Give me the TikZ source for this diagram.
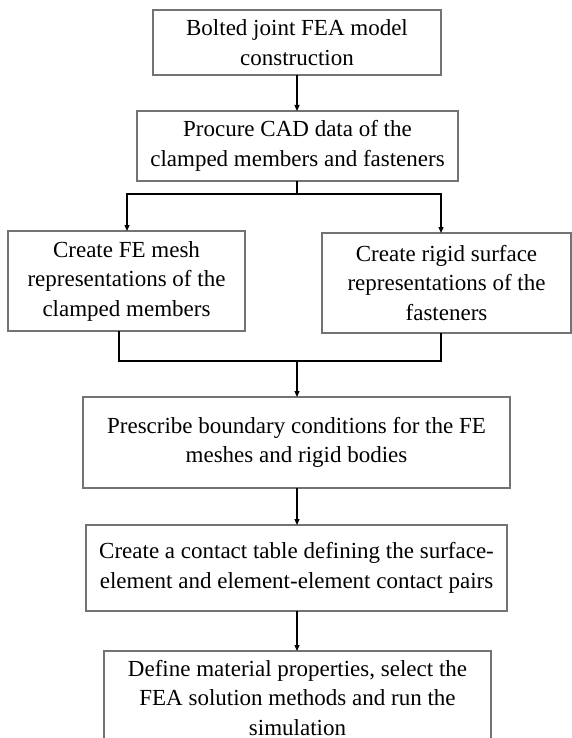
\documentclass[tikz,border=0pt]{standalone}
\usepackage{fontspec}
\setmainfont{Liberation Serif}
\usetikzlibrary{arrows.meta}
\begin{document}
\begin{tikzpicture}[x=1pt,y=-1pt,
  box/.style={draw=black!55, line width=1.1pt, fill=white, align=center,
    inner sep=0pt, outer sep=0pt,
    font=\fontsize{23}{29.5}\selectfont},
  conn/.style={draw=black, line width=1.2pt},
  arr/.style={conn, -{Triangle[length=6pt,width=5pt]}}]
\fill[white] (0,0) rectangle (572,738);
\useasboundingbox (0,0) rectangle (572,738);
\begin{scope}
\clip (0,0) rectangle (572,738);
\node[box, minimum width=288pt, minimum height=65pt] (b1) at (297,42.5)
  {Bolted joint FEA model\\construction};
\node[box, minimum width=321pt, minimum height=70pt] (b2) at (297.5,146)
  {Procure CAD data of the\\clamped members and fasteners};
\node[box, minimum width=237pt, minimum height=100pt] (b3) at (126.5,281)
  {Create FE mesh\\representations of the\\clamped members};
\node[box, minimum width=249pt, minimum height=100pt] (b4) at (446.5,283)
  {Create rigid surface\\representations of the\\fasteners};
\node[box, minimum width=427pt, minimum height=91pt] (b5) at (296.5,442.5)
  {Prescribe boundary conditions for the FE\\meshes and rigid bodies};
\node[box, minimum width=421pt, minimum height=86pt] (b6) at (296.5,568)
  {Create a contact table defining the surface-\\element and element-element contact pairs};
\node[box, minimum width=387pt, minimum height=94pt] (b7) at (297.5,698)
  {Define material properties, select the\\FEA solution methods and run the\\simulation};
\end{scope}
% connectors
\draw[arr] (b1.south) -- (b1.south |- b2.north);
\coordinate (sp) at (297,194);
\coordinate (sl) at (127,194);
\coordinate (sr) at (441,194);
\draw[conn] (b2.south -| sp) -- (sp);
\draw[arr] (sp) -- (sl) -- (sl |- b3.north);
\draw[arr] (sp) -- (sr) -- (sr |- b4.north);
\coordinate (jl) at (119,361);
\coordinate (jr) at (441,361);
\coordinate (jm) at (297,361);
\draw[conn] (jl |- b3.south) -- (jl) -- (jr) -- (jr |- b4.south);
\draw[arr] (jm) -- (jm |- b5.north);
\draw[arr] (b5.south -| jm) -- (jm |- b6.north);
\draw[arr] (b6.south -| jm) -- (jm |- b7.north);
\end{tikzpicture}
\end{document}
